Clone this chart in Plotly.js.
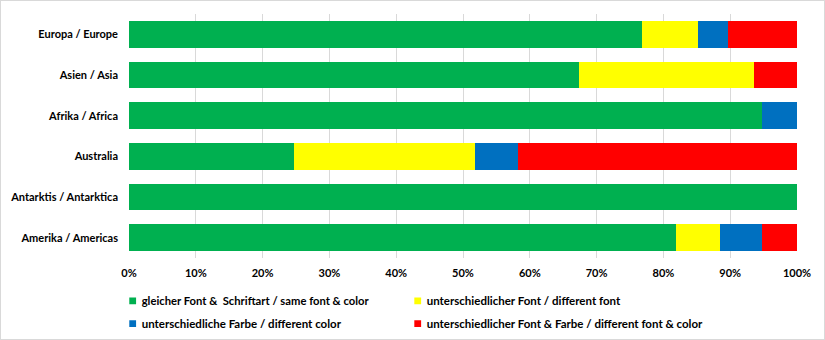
<!DOCTYPE html>
<html><head><meta charset="utf-8">
<script src="https://cdn.plot.ly/plotly-3.0.1.min.js"></script>
<style>
html,body{margin:0;padding:0;background:#fff;}
#chart{width:825px;height:340px;box-sizing:border-box;border:1px solid #d9d9d9;}
</style></head>
<body><div id="chart"></div>
<script>
const categories = ["Europa / Europe","Asien / Asia","Afrika / Africa","Australia","Antarktis / Antarktica","Amerika / Americas"];
const seriesNames = ["gleicher Font &  Schriftart / same font & color","unterschiedlicher Font / different font","unterschiedliche Farbe / different color","unterschiedlicher Font & Farbe / different font & color"];
const sameFont      = [0.768, 0.674, 0.948, 0.247, 1.000, 0.819];
const diffFont      = [0.084, 0.261, 0.000, 0.271, 0.000, 0.066];
const diffColor     = [0.044, 0.000, 0.052, 0.064, 0.000, 0.063];
const diffFontColor = [0.104, 0.065, 0.000, 0.418, 0.000, 0.052];
const colors = ["#00b050","#ffff00","#0070c0","#ff0000"];
const values = [sameFont, diffFont, diffColor, diffFontColor];
const legendOf = ["legend","legend2","legend3","legend4"];
// rendered widths of the legend labels in the reference, px
const legendTextWidths = [227, 190, 194, 289];

const tf = {family:"Lato, sans-serif", size:11, color:"#000", weight:"bold"};
const lf = {family:"Lato, sans-serif", size:11.5, color:"#000", weight:"bold"};
const traces = values.map((v,i)=>({
  type:"bar", orientation:"h", name:seriesNames[i], x:v, y:categories,
  marker:{color:colors[i], line:{width:0}}, legend:legendOf[i]
}));
const legBase = {orientation:"h", xanchor:"left", yanchor:"middle", itemwidth:30,
    bgcolor:"rgba(0,0,0,0)", borderwidth:0, font:lf};
const layout = {
  width:823, height:338, barmode:"stack", bargap:0.34,
  margin:{l:128, r:27, t:13, b:81, autoexpand:false},
  paper_bgcolor:"#fff", plot_bgcolor:"#fff",
  font:{family:"Lato, sans-serif", size:11, color:"#000"},
  xaxis:{range:[0,1], dtick:0.1, tick0:0, tickformat:".0%", showgrid:true, gridcolor:"#d9d9d9", gridwidth:1,
    zeroline:false, showline:false, ticks:"", ticklabelstandoff:7, tickfont:tf, fixedrange:true, automargin:false},
  yaxis:{type:"category", categoryorder:"array", categoryarray:categories, autorange:"reversed",
    showgrid:false, zeroline:false, showline:false, ticks:"", ticklabelstandoff:10,
    tickfont:tf, fixedrange:true, automargin:false},
  showlegend:true,
  legend: Object.assign({}, legBase, {x:-0.0409, y:-0.176}),
  legend2:Object.assign({}, legBase, {x:0.3858,  y:-0.176}),
  legend3:Object.assign({}, legBase, {x:-0.0409, y:-0.269}),
  legend4:Object.assign({}, legBase, {x:0.3858,  y:-0.269})
};
function tidyLegend(gd){
  gd.querySelectorAll("text.legendtext").forEach(t=>{
    const norm = s=>s.replace(/\s+/g," ").trim();
    const idx = seriesNames.findIndex(n=>norm(n)===norm(t.textContent));
    if(idx>=0){
      t.setAttribute("textLength", legendTextWidths[idx]);
      t.setAttribute("lengthAdjust", "spacingAndGlyphs");
    }
  });
  // small square markers placed right before the label, as in the reference
  gd.querySelectorAll("g.legendpoints path").forEach(p=>{
    p.setAttribute("d","M3.4,3.4H-3.4V-3.4H3.4Z");
    p.setAttribute("transform","translate(31,0)");
  });
}
Plotly.newPlot("chart", traces, layout, {displayModeBar:false, staticPlot:true}).then(gd=>{
  tidyLegend(gd);
  setTimeout(()=>tidyLegend(gd), 30);
  setTimeout(()=>tidyLegend(gd), 200);
});
</script></body></html>
